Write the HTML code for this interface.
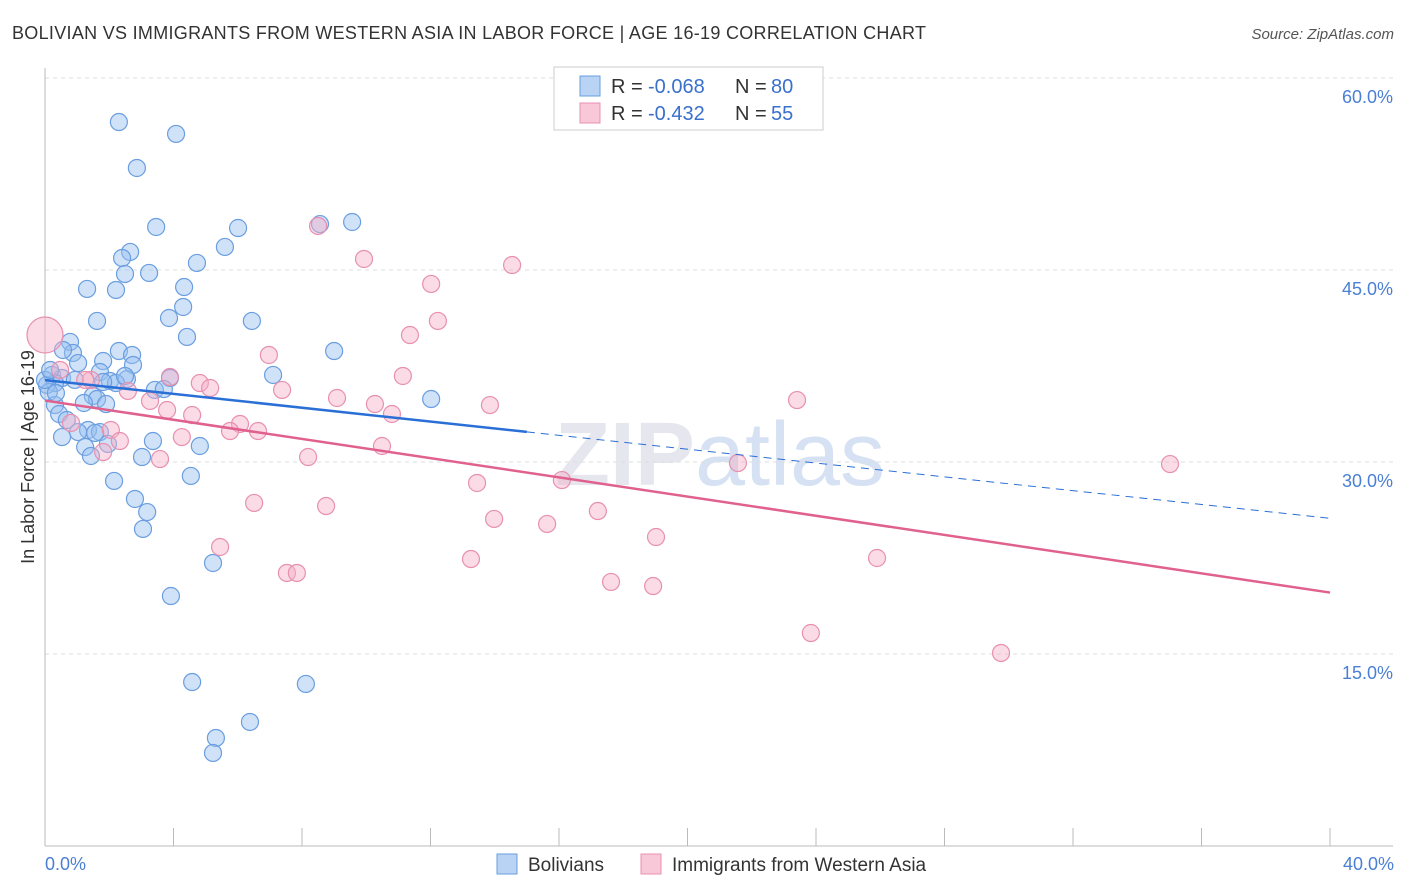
<!DOCTYPE html>
<html><head><meta charset="utf-8"><style>
body{margin:0;background:#fff;font-family:"Liberation Sans",sans-serif;}
svg{display:block}
</style></head><body>
<svg id="chart" width="1406" height="892">
<text x="12" y="39" font-size="18" fill="#333" textLength="914" lengthAdjust="spacing">BOLIVIAN VS IMMIGRANTS FROM WESTERN ASIA IN LABOR FORCE | AGE 16-19 CORRELATION CHART</text>
<text x="1394" y="39" font-size="15" fill="#555" font-style="italic" text-anchor="end">Source: ZipAtlas.com</text>
<text x="720" y="485" font-size="90" fill="#e6e6ee" text-anchor="middle" font-weight="bold">ZIP<tspan font-weight="normal" fill="#d6e2f3">atlas</tspan></text>
<g id="grid"></g><g id="axes"></g><g id="pts"></g><g id="trends"></g>
<text transform="translate(34,457) rotate(-90)" font-size="18" fill="#333" text-anchor="middle">In Labor Force | Age 16-19</text>
<text x="45" y="870" font-size="18" fill="#4a7fd4">0.0%</text>
<text x="1394" y="870" font-size="18" fill="#4a7fd4" text-anchor="end">40.0%</text>
<g>
<rect x="554" y="67" width="269" height="63" fill="#fff" stroke="#ccc"/>
<rect x="580" y="76" width="20" height="20" fill="#b9d3f4" stroke="#6a9ee0"/>
<rect x="580" y="103" width="20" height="20" fill="#f9c8d8" stroke="#e890b0"/>
<text x="611" y="93" font-size="20" fill="#333">R =</text>
<text x="648" y="93" font-size="20" fill="#3a70cc">-0.068</text>
<text x="735" y="93" font-size="20" fill="#333">N =</text>
<text x="771" y="93" font-size="20" fill="#3a70cc">80</text>
<text x="611" y="120" font-size="20" fill="#333">R =</text>
<text x="648" y="120" font-size="20" fill="#3a70cc">-0.432</text>
<text x="735" y="120" font-size="20" fill="#333">N =</text>
<text x="771" y="120" font-size="20" fill="#3a70cc">55</text>
</g>
<g>
<rect x="497" y="854" width="20" height="20" fill="#b9d3f4" stroke="#6a9ee0"/>
<text x="528" y="871" font-size="19" fill="#333">Bolivians</text>
<rect x="641" y="854" width="20" height="20" fill="#f9c8d8" stroke="#e890b0"/>
<text x="672" y="871" font-size="19" fill="#333">Immigrants from Western Asia</text>
</g>
</svg>
<script>
const yTicks=[15,30,45,60];
const yTickLabels=["15.0%","30.0%","45.0%","60.0%"];
const xTicks=[0,4,8,12,16,20,24,28,32,36,40];
const blueX=[2.30,4.08,2.86,3.46,6.01,8.56,9.56,5.60,2.65,2.40,4.73,3.24,2.49,1.31,2.21,4.33,4.30,3.86,6.44,1.62,4.42,0.78,0.87,2.30,2.71,1.81,1.03,2.74,7.10,9.00,1.71,0.22,0.53,0.93,2.02,2.55,2.21,3.89,0.31,0.06,0.12,3.42,3.70,1.49,1.62,1.90,1.21,0.31,0.44,0.68,12.02,1.34,1.71,1.56,1.03,0.53,3.36,4.82,1.25,1.96,1.43,3.02,4.54,2.15,2.80,3.18,3.05,5.23,3.92,4.58,8.12,6.38,5.32,5.23,0.56,0.34,0.00,0.16,2.49,1.81];
const blueY=[56.56,55.63,52.97,48.36,48.28,48.59,48.75,46.80,46.41,45.94,45.55,44.77,44.69,43.52,43.44,43.67,42.11,41.25,41.02,41.02,39.77,39.38,38.52,38.67,38.36,37.89,37.73,37.58,36.80,38.67,37.03,36.80,36.56,36.41,36.33,36.48,36.17,36.56,36.17,36.02,35.47,35.63,35.70,35.16,34.92,34.53,34.61,34.45,33.75,33.28,34.92,32.50,32.34,32.27,32.34,31.95,31.64,31.25,31.17,31.41,30.47,30.39,28.91,28.52,27.11,26.09,24.77,22.11,19.53,12.81,12.66,9.69,8.44,7.27,38.75,35.39,36.41,37.19,36.72,36.25];
const pinkX=[0,8.50,9.93,14.54,12.02,12.23,11.36,6.97,0.47,1.43,3.89,4.82,5.14,7.38,11.14,9.09,10.27,10.80,13.85,23.41,2.58,3.27,3.80,4.58,6.07,5.76,6.63,2.05,2.33,4.26,0.81,1.81,3.58,8.19,10.49,21.57,35.02,13.45,16.09,6.51,8.75,13.98,15.63,17.21,19.02,5.45,13.26,25.90,7.53,7.84,17.62,18.93,23.84,29.76,1.25];
const pinkY=[39.92,48.44,45.86,45.39,43.91,41.02,39.92,38.36,37.19,36.41,36.64,36.17,35.78,35.63,36.72,35.00,34.53,33.75,34.45,34.84,35.55,34.77,34.06,33.67,32.97,32.42,32.42,32.50,31.64,31.95,33.05,30.78,30.23,30.39,31.25,29.92,29.84,28.36,28.59,26.80,26.56,25.55,25.16,26.17,24.14,23.36,22.42,22.50,21.33,21.33,20.63,20.31,16.64,15.08,36.41];
const blueTrend=[36.4,25.6], blueSolidEnd=15.0;
const pinkTrend=[34.8,19.8];
const NS="http://www.w3.org/2000/svg";
const sx=v=>45+v*32.125, sy=v=>846-v*12.8;
function mk(tag,attrs,parent){const e=document.createElementNS(NS,tag);for(const k in attrs)e.setAttribute(k,attrs[k]);parent.appendChild(e);return e;}
const grid=document.getElementById('grid'),axes=document.getElementById('axes'),pts=document.getElementById('pts'),tr=document.getElementById('trends');
yTicks.forEach((t,i)=>{
 const l=mk('line',{x1:45,x2:1393,y1:sy(t),y2:sy(t),stroke:'#ddd','stroke-dasharray':'4,4'},grid);
 
 
 const tx=mk('text',{x:1393,y:sy(t)+25,'font-size':18,fill:'#4a7fd4','text-anchor':'end'},grid);
 tx.textContent=yTickLabels[i];
 
 
});
const ya=mk('line',{x1:45,x2:45,y1:68,y2:846,stroke:'#bbb'},axes);


const xa=mk('line',{x1:45,x2:1393,y1:846,y2:846,stroke:'#bbb'},axes);


xTicks.forEach(t=>{
 const l=mk('line',{x1:sx(t),x2:sx(t),y1:828,y2:846,stroke:'#bbb'},axes);
 
 
});
blueX.forEach((x,i)=>{
 const c=mk('circle',{cx:sx(x),cy:sy(blueY[i]),r:8.5,fill:'rgba(150,190,240,0.45)',stroke:'#6a9ee0','stroke-width':1.2},pts);
 
 
});
pinkX.forEach((x,i)=>{
 const c=mk('circle',{cx:sx(x),cy:sy(pinkY[i]),r:i===0?18:8.5,fill:'rgba(245,175,200,0.45)',stroke:'#e890b0','stroke-width':1.2},pts);
 
 
});
const bAt=x=>blueTrend[0]+(blueTrend[1]-blueTrend[0])*x/40;
const b1=mk('line',{x1:sx(0),y1:sy(bAt(0)),x2:sx(blueSolidEnd),y2:sy(bAt(blueSolidEnd)),stroke:'#2a6fd6','stroke-width':2.5},tr);


const b2=mk('line',{x1:sx(blueSolidEnd),y1:sy(bAt(blueSolidEnd)),x2:sx(40),y2:sy(bAt(40)),stroke:'#2a6fd6','stroke-width':1,'stroke-dasharray':'8,6'},tr);


const p1=mk('line',{x1:sx(0),y1:sy(pinkTrend[0]),x2:sx(40),y2:sy(pinkTrend[1]),stroke:'#e0608e','stroke-width':2.5},tr);


</script>
</body></html>
